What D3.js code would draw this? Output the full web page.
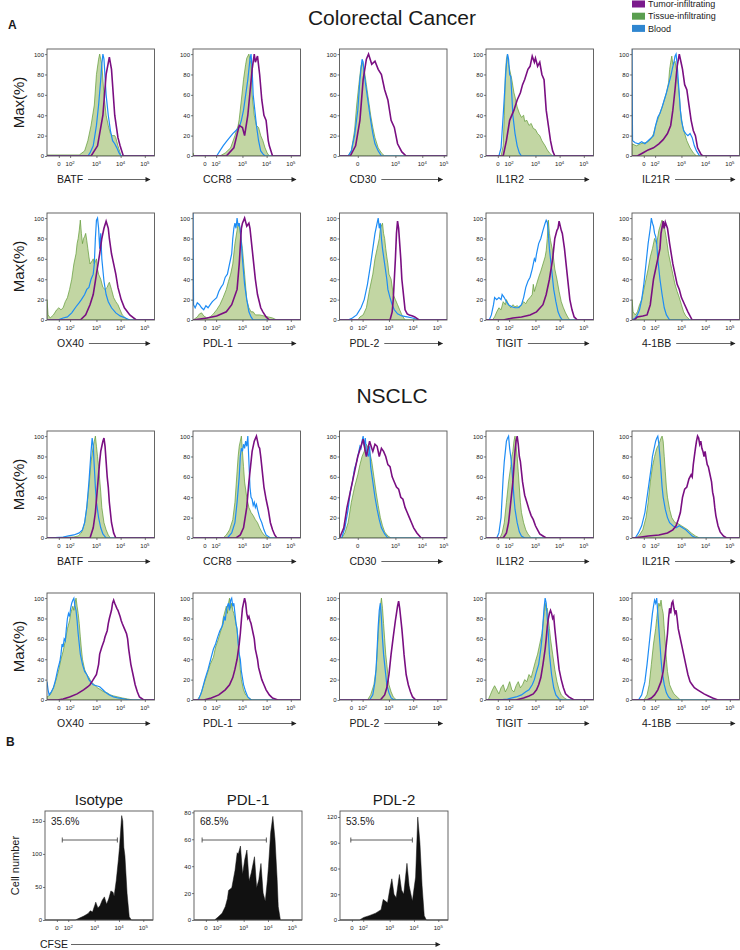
<!DOCTYPE html>
<html lang="en">
<head>
<meta charset="UTF-8">
<title>Tumor-infiltrating Treg markers</title>
<script src="https://d3js.org/d3.v7.min.js"></script>
<style>
  body { margin: 0; background: #fff; font-family: "Liberation Sans", Arial, sans-serif; }
  svg text { font-family: "Liberation Sans", Arial, sans-serif; fill: #1a1a1a; }
  .axis text { font-size: 6px; }
  .axis line { stroke: #444; stroke-width: 0.7; }
  .axis path { display: none; }
</style>
</head>
<body>
<div id="viz"></div>
<script>
// ---- data (x in channel units 0-100 along the biexponential axis, y in % of max) ----
var markers = ["BATF", "CCR8", "CD30", "IL1R2", "IL21R", "OX40", "PDL-1", "PDL-2", "TIGIT", "4-1BB"];
var seriesNames = ["Tumor-infiltrating", "Tissue-infiltrating", "Blood"];

var xTickPos = [11, 21.5, 46, 68.5, 91];
var xTickExp = [null, 2, 3, 4, 5];
var cd30TickPos = [17, 52, 77, 97];
var cd30TickExp = [null, 3, 4, 5];
var yTicks = [0, 20, 40, 60, 80, 100];

var crcTumor = [
  [[41,0],[47,10],[52,40],[55,80],[58,97],[60,85],[63,40],[66,18],[68,10],[71,0]],
  [[31,0],[38,8],[43,30],[46,28],[48,20],[51,40],[55,85],[57,100],[58,92],[60,98],[62,80],[64,55],[66,40],[68,35],[70,15],[71,10],[74,0]],
  [[10,0],[15,10],[19,35],[22,75],[25,95],[27,100],[30,90],[33,93],[36,85],[39,80],[42,65],[45,55],[48,35],[51,28],[54,12],[58,4],[62,0]],
  [[16,0],[19,15],[22,35],[26,45],[29,55],[32,62],[34,70],[36,75],[39,85],[41,88],[43,98],[45,92],[46,96],[48,88],[50,92],[52,80],[54,75],[56,45],[58,30],[60,15],[62,5],[64,0]],
  [[5,0],[10,3],[15,6],[20,8],[25,12],[29,16],[33,22],[36,30],[38,45],[40,65],[42,88],[44,100],[46,90],[47,85],[49,70],[51,65],[53,50],[55,35],[57,25],[59,20],[61,8],[64,2],[66,0]],
  [[31,0],[36,5],[40,15],[43,25],[46,45],[49,65],[51,80],[53,90],[55,97],[57,90],[58,80],[60,65],[62,55],[64,45],[66,32],[69,20],[72,12],[77,5],[83,0]],
  [[0,0],[13,2],[22,4],[31,8],[36,15],[41,30],[43,55],[45,90],[46,95],[48,100],[50,92],[52,95],[53,90],[55,70],[56,60],[58,40],[60,25],[63,12],[65,8],[68,3],[71,0]],
  [[47,0],[49,8],[50,20],[51,40],[52,60],[53,85],[54,97],[55,90],[56,75],[57,60],[58,40],[59,30],[60,20],[61,10],[63,6],[65,5],[68,4],[70,3],[74,0]],
  [[16,0],[25,2],[33,3],[41,5],[47,8],[53,15],[56,25],[59,40],[62,60],[64,80],[66,88],[67,90],[68,97],[70,88],[71,85],[73,70],[75,50],[77,30],[78,20],[80,10],[82,3],[85,0]],
  [[2,0],[5,3],[10,4],[14,5],[17,15],[20,40],[23,55],[26,70],[27,85],[29,97],[30,90],[31,96],[33,90],[35,75],[38,55],[40,45],[42,35],[44,30],[46,22],[49,15],[52,8],[56,0]]
];

var crcTissue = [
  [[0,1],[30,1],[35,5],[38,15],[41,30],[44,50],[46,80],[48,95],[49,100],[51,90],[53,60],[55,40],[57,30],[59,22],[61,20],[63,20],[64,18],[66,10],[69,0]],
  [[0,3],[1,0],[25,0],[30,3],[35,8],[39,20],[42,30],[43,36],[45,55],[47,75],[49,90],[50,96],[52,100],[54,90],[55,60],[57,40],[59,30],[61,28],[63,20],[65,15],[67,8],[69,3],[71,0]],
  [[8,0],[11,5],[14,25],[16,50],[18,70],[20,88],[21,92],[23,85],[25,70],[27,55],[29,40],[31,28],[33,18],[36,8],[39,3],[42,0]],
  [[14,0],[16,10],[17,40],[18,80],[19,95],[20,100],[21,90],[22,85],[24,75],[26,62],[27,58],[29,48],[31,42],[33,38],[35,40],[36,34],[38,35],[40,30],[42,32],[44,27],[46,26],[48,22],[50,20],[52,15],[55,10],[57,6],[59,3],[62,0]],
  [[0,12],[4,10],[8,12],[12,13],[15,14],[18,17],[20,22],[22,30],[24,36],[26,42],[28,48],[30,55],[32,62],[34,72],[35,85],[36,92],[37,98],[38,90],[40,93],[42,80],[43,70],[44,60],[45,45],[47,30],[49,22],[51,15],[54,8],[57,3],[60,0]],
  [[0,20],[1,5],[3,2],[6,5],[9,10],[11,12],[13,10],[15,12],[17,18],[19,22],[21,30],[23,40],[25,55],[27,65],[28,75],[29,80],[30,88],[31,98],[32,85],[33,75],[34,80],[35,82],[36,85],[37,78],[38,70],[39,62],[40,55],[42,58],[43,60],[44,55],[46,60],[47,50],[48,45],[50,40],[52,32],[54,30],[56,32],[57,35],[58,37],[60,30],[62,22],[64,18],[66,15],[68,10],[70,5],[72,3],[75,0]],
  [[0,0],[4,3],[6,6],[8,7],[10,4],[13,2],[16,3],[19,6],[22,10],[25,15],[28,22],[31,30],[33,38],[35,45],[37,55],[39,75],[41,88],[42,95],[43,92],[45,78],[46,70],[48,45],[50,20],[52,12],[54,8],[56,8],[58,5],[62,5],[66,4],[70,3],[74,2],[78,0]],
  [[17,0],[19,3],[22,5],[25,12],[28,30],[31,45],[33,60],[35,70],[37,80],[38,90],[40,95],[41,85],[42,80],[43,70],[44,62],[45,55],[46,45],[48,40],[50,25],[52,20],[54,15],[56,10],[58,5],[61,0]],
  [[6,0],[8,3],[10,8],[12,12],[14,10],[16,18],[18,15],[19,20],[21,15],[23,12],[25,15],[27,13],[29,14],[31,12],[33,15],[35,18],[37,16],[39,20],[41,22],[43,25],[44,35],[45,28],[47,35],[49,42],[51,48],[53,55],[55,62],[56,68],[57,80],[58,98],[59,85],[60,78],[62,68],[64,50],[66,40],[68,28],[70,18],[72,12],[74,7],[76,3],[78,0]],
  [[0,20],[1,8],[3,5],[5,8],[7,15],[9,20],[11,30],[13,40],[15,50],[17,62],[19,70],[21,80],[23,75],[25,88],[27,95],[28,98],[29,90],[30,92],[32,80],[34,65],[36,55],[38,45],[40,35],[42,28],[44,22],[46,15],[48,8],[50,4],[54,0]]
];

var crcBlood = [
  [[0,0],[38,0],[40,3],[43,10],[46,30],[48,50],[50,75],[51,90],[52,100],[53,95],[55,60],[57,40],[59,25],[61,15],[63,12],[65,8],[67,3],[69,0]],
  [[0,0],[22,0],[25,5],[28,10],[31,14],[34,18],[37,22],[40,25],[43,28],[45,35],[47,45],[49,60],[51,75],[53,95],[54,100],[55,85],[56,60],[57,50],[59,30],[61,15],[63,5],[65,2],[67,0]],
  [[8,0],[11,5],[14,20],[17,45],[19,75],[20,85],[21,95],[22,92],[23,80],[25,65],[27,50],[29,35],[31,22],[33,12],[36,5],[39,0]],
  [[12,0],[14,8],[16,40],[18,75],[19,90],[20,100],[21,95],[22,80],[23,78],[24,60],[25,40],[27,22],[29,10],[31,3],[33,0]],
  [[0,105],[0.5,15],[3,13],[6,12],[9,14],[12,12],[15,15],[18,18],[20,20],[22,30],[24,38],[26,42],[28,48],[30,55],[32,62],[34,70],[36,78],[38,88],[39,92],[40,98],[41,100],[42,90],[43,75],[44,60],[45,45],[46,35],[48,25],[50,22],[52,20],[54,22],[56,18],[58,10],[60,5],[63,0]],
  [[0,0],[10,0],[15,2],[19,3],[23,7],[27,13],[30,17],[32,20],[35,25],[37,30],[39,32],[41,40],[43,45],[44,55],[45,80],[46,98],[47,100],[48,90],[49,70],[50,85],[51,60],[53,38],[55,25],[57,18],[60,12],[64,7],[68,4],[73,2],[77,0]],
  [[0,105],[0.5,15],[2,12],[4,17],[6,15],[8,12],[10,10],[12,14],[14,12],[16,15],[18,18],[20,20],[22,22],[24,28],[26,32],[28,35],[30,42],[32,45],[34,55],[36,65],[37,80],[38,90],[39,95],[40,90],[41,100],[42,92],[43,95],[44,88],[45,75],[46,60],[48,35],[50,20],[52,8],[54,3],[56,0]],
  [[8,0],[12,2],[16,5],[20,12],[23,20],[26,35],[29,55],[31,70],[33,85],[35,95],[36,100],[37,90],[38,95],[39,80],[40,70],[42,55],[44,40],[45,30],[47,22],[49,15],[51,10],[54,6],[58,4],[63,3],[68,2],[74,0]],
  [[3,0],[5,5],[7,15],[8,22],[10,20],[12,22],[14,20],[15,25],[17,22],[19,18],[21,15],[24,13],[27,12],[30,12],[33,15],[35,22],[37,32],[39,38],[41,42],[43,50],[45,60],[46,58],[47,65],[49,75],[51,80],[53,88],[55,95],[56,98],[57,96],[58,85],[59,70],[61,50],[63,30],[65,18],[67,8],[69,3],[71,0]],
  [[0,0],[3,2],[5,5],[7,10],[9,20],[11,35],[13,55],[14,65],[15,75],[17,90],[18,100],[19,95],[20,92],[21,85],[22,82],[23,75],[24,60],[26,40],[28,25],[30,12],[32,5],[35,0]]
];

var nscTumor = [
  [[40,0],[43,10],[45,25],[47,50],[49,75],[50,85],[51,90],[52,95],[53,98],[54,90],[55,75],[56,60],[57,50],[58,35],[60,15],[62,5],[64,0]],
  [[40,0],[44,3],[47,10],[50,30],[52,55],[54,75],[55,85],[57,95],[59,100],[60,95],[61,90],[62,88],[63,80],[64,70],[65,60],[66,50],[68,38],[70,28],[72,15],[74,8],[76,3],[78,0]],
  [[0,0],[4,10],[7,30],[10,45],[13,60],[15,70],[17,80],[20,90],[22,97],[24,85],[25,80],[27,90],[28,95],[30,88],[31,85],[33,92],[35,90],[37,80],[39,88],[41,85],[43,80],[45,72],[47,70],[49,60],[51,55],[53,50],[55,48],[57,40],[59,38],[61,30],[63,25],[65,20],[67,15],[69,10],[72,5],[76,0]],
  [[16,0],[19,5],[21,15],[23,35],[25,55],[26,70],[27,85],[28,95],[29,100],[30,92],[31,80],[32,75],[34,55],[36,42],[38,35],[40,28],[42,22],[44,18],[46,12],[48,8],[50,4],[53,2],[56,0]],
  [[2,0],[15,2],[25,3],[33,5],[38,8],[41,12],[43,18],[45,25],[47,40],[49,48],[51,50],[53,58],[55,62],[56,60],[57,72],[58,80],[59,88],[60,95],[61,100],[62,98],[63,92],[64,95],[65,88],[66,85],[67,80],[68,85],[69,78],[70,72],[71,70],[72,65],[74,55],[75,45],[76,40],[77,30],[78,22],[80,12],[82,6],[85,2],[88,0]],
  [[10,0],[15,1],[21,3],[28,6],[34,10],[38,13],[40,15],[43,20],[46,25],[48,35],[49,45],[51,52],[53,58],[54,62],[56,68],[57,75],[58,80],[60,88],[61,95],[62,98],[63,95],[65,90],[66,88],[68,82],[69,78],[70,75],[72,70],[74,65],[75,60],[76,50],[78,35],[80,25],[82,15],[84,8],[86,3],[90,0]],
  [[10,0],[17,2],[24,5],[30,10],[34,15],[37,22],[39,30],[41,40],[43,55],[44,65],[45,78],[46,90],[47,95],[48,100],[49,95],[50,85],[51,80],[52,82],[53,78],[54,75],[55,70],[56,65],[57,60],[58,50],[59,45],[60,40],[61,32],[62,28],[64,20],[66,15],[68,10],[71,5],[74,2],[79,0]],
  [[38,0],[42,5],[44,12],[46,25],[48,45],[50,62],[52,78],[53,85],[54,92],[55,97],[56,90],[57,80],[58,70],[59,58],[60,45],[61,35],[62,25],[64,15],[66,8],[68,3],[71,0]],
  [[28,0],[35,2],[40,4],[44,6],[47,10],[49,15],[51,22],[53,35],[55,50],[56,60],[57,72],[58,80],[59,85],[60,88],[61,85],[62,80],[63,82],[64,70],[65,60],[66,50],[67,40],[68,30],[70,20],[72,12],[74,6],[77,3],[82,0]],
  [[14,0],[18,2],[21,5],[24,10],[27,18],[29,28],[31,45],[33,65],[34,80],[35,90],[36,85],[37,95],[38,97],[39,90],[40,85],[41,88],[42,80],[43,70],[44,65],[46,55],[48,45],[50,35],[52,25],[54,18],[56,15],[58,12],[61,10],[64,8],[67,6],[71,4],[75,2],[80,0]]
];

var nscTissue = [
  [[0,0],[25,1],[29,2],[32,5],[35,15],[37,30],[39,50],[41,75],[43,90],[44,95],[45,100],[46,90],[47,80],[48,70],[50,45],[51,30],[53,15],[55,8],[57,3],[59,0]],
  [[28,0],[31,3],[34,8],[37,18],[39,35],[40,50],[41,65],[42,80],[43,90],[44,95],[45,100],[46,85],[47,70],[48,55],[50,40],[52,30],[54,25],[56,22],[58,18],[60,15],[62,10],[64,6],[66,3],[70,0]],
  [[2,0],[5,5],[8,15],[11,35],[14,50],[17,62],[19,72],[21,80],[23,85],[25,92],[27,88],[28,85],[30,75],[32,60],[34,45],[36,32],[38,20],[40,12],[42,6],[45,2],[48,0]],
  [[13,0],[15,5],[17,15],[19,35],[21,55],[23,70],[24,80],[25,85],[26,95],[27,100],[28,90],[29,80],[30,65],[31,50],[32,35],[33,25],[35,15],[37,8],[39,4],[42,0]],
  [[4,0],[7,3],[10,8],[13,20],[15,35],[17,55],[19,70],[21,80],[23,88],[25,92],[27,98],[28,100],[29,95],[30,80],[31,65],[32,50],[33,40],[35,28],[37,20],[40,15],[43,14],[46,12],[49,10],[52,8],[55,5],[59,2],[63,0]],
  [[0,3],[3,5],[5,10],[7,15],[9,22],[11,30],[13,40],[15,48],[17,58],[19,70],[21,78],[22,85],[24,92],[25,88],[26,95],[27,100],[28,92],[29,85],[30,75],[31,62],[32,50],[33,40],[35,30],[37,25],[39,22],[41,18],[44,15],[47,12],[50,10],[53,8],[56,7],[59,5],[62,4],[66,3],[70,2],[75,1],[80,0]],
  [[4,0],[7,5],[10,15],[13,25],[16,35],[19,42],[21,52],[23,58],[25,65],[27,72],[28,80],[30,88],[31,92],[32,85],[33,95],[34,100],[35,90],[36,95],[37,88],[38,85],[39,80],[40,75],[41,68],[42,60],[43,45],[44,30],[45,20],[47,10],[49,5],[52,2],[55,0]],
  [[26,0],[29,5],[32,15],[34,30],[35,45],[36,65],[37,80],[38,92],[39,100],[40,90],[41,75],[42,60],[43,45],[44,35],[45,25],[46,15],[48,8],[50,3],[53,0]],
  [[2,0],[4,5],[6,10],[8,14],[10,10],[12,6],[14,12],[16,15],[18,8],[20,12],[22,18],[24,10],[26,8],[28,14],[30,18],[32,12],[34,15],[36,20],[38,18],[40,25],[42,22],[44,30],[46,38],[48,45],[50,55],[52,65],[53,75],[54,85],[55,95],[56,88],[57,90],[58,80],[59,70],[60,60],[62,45],[64,30],[66,18],[68,10],[70,5],[73,2],[76,0]],
  [[11,0],[14,5],[16,15],[18,35],[20,55],[22,70],[23,80],[24,90],[25,95],[26,92],[27,98],[28,90],[29,85],[30,70],[31,55],[32,40],[33,28],[35,15],[37,10],[39,6],[42,3],[45,0]]
];

var nscBlood = [
  [[0,0],[15,1],[20,2],[25,3],[30,5],[33,8],[35,15],[37,30],[39,55],[40,70],[41,85],[42,98],[43,90],[44,70],[45,50],[46,35],[48,20],[50,10],[52,4],[55,0]],
  [[32,0],[36,5],[39,15],[41,35],[43,60],[44,80],[45,88],[46,85],[47,92],[48,88],[49,95],[50,90],[51,100],[52,75],[53,50],[54,40],[55,38],[56,32],[57,35],[58,30],[59,33],[60,28],[62,20],[64,15],[66,8],[68,3],[72,0]],
  [[2,0],[5,10],[8,28],[10,45],[12,55],[14,68],[16,75],[18,85],[19,90],[20,88],[21,95],[22,100],[23,90],[24,98],[25,85],[27,80],[28,90],[29,70],[31,55],[33,40],[35,28],[37,18],[39,10],[42,4],[45,0]],
  [[10,0],[12,5],[14,20],[15,40],[16,60],[17,75],[18,85],[19,95],[20,98],[21,100],[22,88],[23,80],[24,70],[25,55],[26,40],[27,28],[29,15],[31,6],[33,2],[36,0]],
  [[3,0],[6,5],[9,12],[12,25],[14,40],[16,55],[18,70],[19,80],[20,85],[21,90],[22,95],[23,98],[24,100],[25,92],[26,80],[27,65],[28,50],[29,40],[31,28],[33,20],[35,15],[38,12],[41,10],[44,12],[47,10],[50,8],[53,5],[56,2],[60,0]],
  [[0,18],[1,10],[2,5],[4,8],[6,12],[8,20],[10,30],[12,38],[13,45],[14,55],[15,52],[16,60],[17,58],[18,70],[19,80],[20,85],[21,82],[22,90],[23,95],[24,98],[25,100],[26,92],[27,88],[28,78],[29,65],[30,55],[31,45],[33,35],[35,28],[37,25],[39,20],[41,17],[43,15],[46,14],[49,13],[52,10],[55,7],[58,5],[62,3],[66,2],[72,1],[77,0]],
  [[5,0],[8,8],[11,20],[14,30],[17,42],[19,50],[21,55],[23,62],[25,68],[27,72],[28,75],[29,82],[30,78],[31,88],[32,92],[33,95],[34,88],[35,98],[36,100],[37,92],[38,95],[39,85],[40,75],[41,70],[42,55],[43,45],[44,40],[45,28],[47,15],[49,8],[51,3],[54,0]],
  [[28,0],[31,5],[33,18],[34,30],[35,50],[36,72],[37,88],[38,95],[39,80],[40,60],[41,45],[42,35],[43,25],[44,15],[46,7],[48,2],[51,0]],
  [[10,0],[20,1],[28,3],[33,5],[37,8],[40,10],[43,15],[45,20],[47,28],[49,35],[51,50],[52,60],[53,75],[54,90],[55,100],[56,95],[57,80],[58,65],[59,45],[61,25],[63,12],[65,5],[68,1],[71,0]],
  [[6,0],[9,5],[12,18],[14,35],[16,55],[18,75],[19,85],[20,92],[21,98],[22,95],[23,100],[24,85],[25,70],[26,55],[27,40],[28,28],[30,15],[32,7],[34,3],[37,0]]
];

// panel B: CFSE dilution (cell counts)
var cfseTitles = ["Isotype", "PDL-1", "PDL-2"];
var cfsePercent = ["35.6%", "68.5%", "53.5%"];
var cfseMax = [165, 81, 127];
var cfseYTicks = [[0, 50, 100, 150], [0, 20, 40, 60, 80], [0, 30, 60, 90, 120]];
var cfseGates = [[16, 67], [7.5, 67], [10, 67]];
var cfseIsotype = [[28,0],[32,3],[36,6],[40,10],[42,14],[44,12],[46,22],[47,27],[49,18],[51,22],[53,30],[55,35],[57,24],[59,32],[61,44],[63,42],[64,36],[66,60],[68,92],[69,110],[71,158],[72,150],[73,110],[74,97],[76,40],[78,5],[80,0]];
var cfsePDL1 = [[19,0],[22,2],[26,5],[29,10],[31,16],[32,22],[35,24],[38,37],[40,50],[41,49],[43,55],[45,34],[47,45],[49,52],[51,29],[53,35],[56,47],[58,24],[60,30],[62,42],[64,20],[66,14],[68,30],[69,40],[71,65],[73,77],[75,60],[77,30],[78,10],[80,0]];
var cfsePDL2 = [[18,0],[22,3],[27,5],[33,8],[38,12],[40,24],[42,22],[44,20],[46,35],[48,48],[50,30],[52,26],[55,53],[57,35],[59,30],[62,66],[64,40],[67,22],[70,50],[72,120],[74,90],[76,40],[78,5],[80,0]];

// ---- layout ----
var W = 740, H = 950;
var colLeft = [47, 193, 339.5, 486, 632];
var rowTop = [49, 213, 431, 593];
var PW = 107.5, PH = 107;
var colors = { tumor: "#7a0f82", tissueFill: "#c2d6a3", tissueLine: "#5f9a35", blood: "#1d8cf5" };

var svg = d3.select("#viz").append("svg")
    .attr("width", W)
    .attr("height", H);

var defs = svg.append("defs");
defs.append("marker")
    .attr("id", "arrow")
    .attr("viewBox", "0 0 10 10")
    .attr("refX", 9).attr("refY", 5)
    .attr("markerWidth", 7).attr("markerHeight", 5)
    .attr("markerUnits", "userSpaceOnUse")
    .attr("orient", "auto")
  .append("path")
    .attr("d", "M0,0 L10,5 L0,10 Z")
    .attr("fill", "#222");

function pad(pts) {
  var out = pts.slice();
  if (out[0][0] > 0) out.unshift([0, 0]);
  if (out[out.length - 1][0] < 100) out.push([100, 0]);
  return out;
}

function addXTicks(g, x, y0, pos, exps) {
  var ax = g.append("g").attr("class", "axis")
      .attr("transform", "translate(0," + y0 + ")")
      .call(d3.axisBottom(x).tickValues(pos).tickSize(2).tickFormat(""));
  var lab = g.selectAll(null).data(pos).enter().append("text")
      .attr("x", d => x(d))
      .attr("y", y0 + 10)
      .attr("text-anchor", "middle")
      .style("font-size", "6px");
  lab.each(function(d, i) {
    var t = d3.select(this);
    if (exps[i] == null) { t.text("0"); return; }
    t.append("tspan").text("10");
    t.append("tspan").attr("dy", -2.5).style("font-size", "4.2px").text(exps[i]);
  });
}

function axisLabel(g, left, bottom, name) {
  var t = g.append("text")
      .attr("x", left + 10)
      .attr("y", bottom + 27)
      .style("font-size", "10.5px")
      .text(name);
  var end = left + 10 + t.node().getComputedTextLength();
  g.append("line")
      .attr("x1", end + 5).attr("x2", left + 103)
      .attr("y1", bottom + 23.5).attr("y2", bottom + 23.5)
      .attr("stroke", "#222").attr("stroke-width", 0.7)
      .attr("marker-end", "url(#arrow)");
}

var panelId = 0;
function drawPanel(left, top, marker, tumor, tissue, blood) {
  var id = "clip" + (panelId++);
  var g = svg.append("g");
  var x = d3.scaleLinear().domain([0, 100]).range([left, left + PW]);
  var y = d3.scaleLinear().domain([0, 105]).range([top + PH, top]);

  defs.append("clipPath").attr("id", id)
    .append("rect").attr("x", left).attr("y", top - 1).attr("width", PW).attr("height", PH + 1);

  var area = d3.area().x(d => x(d[0])).y0(y(0)).y1(d => y(d[1]));
  var line = d3.line().x(d => x(d[0])).y(d => y(d[1]));
  var plot = g.append("g").attr("clip-path", "url(#" + id + ")");

  plot.append("path").datum(pad(tissue))
      .attr("d", area)
      .attr("fill", colors.tissueFill)
      .attr("stroke", colors.tissueLine)
      .attr("stroke-width", 0.7);
  plot.append("path").datum(pad(blood))
      .attr("d", line)
      .attr("fill", "none")
      .attr("stroke", colors.blood)
      .attr("stroke-width", 1.2);
  plot.append("path").datum(pad(tumor))
      .attr("d", line)
      .attr("fill", "none")
      .attr("stroke", colors.tumor)
      .attr("stroke-width", 1.6);

  g.append("rect")
      .attr("x", left).attr("y", top)
      .attr("width", PW).attr("height", PH)
      .attr("fill", "none").attr("stroke", "#555").attr("stroke-width", 0.9);

  g.append("g").attr("class", "axis")
      .attr("transform", "translate(" + left + ",0)")
      .call(d3.axisLeft(y).tickValues(yTicks).tickSize(2).tickPadding(1));

  if (marker === "CD30") addXTicks(g, x, top + PH, cd30TickPos, cd30TickExp);
  else addXTicks(g, x, top + PH, xTickPos, xTickExp);
  axisLabel(g, left, top + PH, marker);
}

// ---- panel A ----
svg.append("text").attr("x", 8).attr("y", 29)
    .style("font-size", "12px").style("font-weight", "bold").text("A");

svg.append("text").attr("x", 392).attr("y", 25)
    .attr("text-anchor", "middle").style("font-size", "21px").text("Colorectal Cancer");
svg.append("text").attr("x", 392).attr("y", 403)
    .attr("text-anchor", "middle").style("font-size", "21px").text("NSCLC");

// legend
var legendColors = ["#7b1a8c", "#5a9e4f", "#2f86d0"];
var leg = svg.append("g").selectAll("g").data(seriesNames).enter().append("g")
    .attr("transform", (d, i) => "translate(632," + (4 + i * 12.2) + ")");
leg.append("rect").attr("x", 0).attr("y", -3.5).attr("width", 13).attr("height", 7)
    .attr("fill", (d, i) => legendColors[i]);
leg.append("text").attr("x", 16).attr("y", 3.2)
    .style("font-size", "9px").text(d => d);

rowTop.forEach(function(top) {
  svg.append("text")
      .attr("transform", "translate(24," + (top + PH / 2) + ") rotate(-90)")
      .attr("text-anchor", "middle")
      .style("font-size", "15px")
      .text("Max(%)");
});

markers.forEach(function(m, i) {
  var c = i % 5, r = Math.floor(i / 5);
  drawPanel(colLeft[c], rowTop[r], m, crcTumor[i], crcTissue[i], crcBlood[i]);
  drawPanel(colLeft[c], rowTop[r + 2], m, nscTumor[i], nscTissue[i], nscBlood[i]);
});

// ---- panel B ----
svg.append("text").attr("x", 6).attr("y", 746)
    .style("font-size", "12px").style("font-weight", "bold").text("B");

var bLeft = [45, 194, 340], bTop = 811, bH = 109, bW = 108;
var cfseData = [cfseIsotype, cfsePDL1, cfsePDL2];

cfseData.forEach(function(pts, i) {
  var left = bLeft[i];
  var g = svg.append("g");
  var x = d3.scaleLinear().domain([0, 100]).range([left, left + bW]);
  var y = d3.scaleLinear().domain([0, cfseMax[i]]).range([bTop + bH, bTop]);

  g.append("path").datum(pad(pts))
      .attr("d", d3.area().x(d => x(d[0])).y0(y(0)).y1(d => y(d[1])))
      .attr("fill", "#111").attr("stroke", "#111").attr("stroke-width", 0.5);

  g.append("rect").attr("x", left).attr("y", bTop)
      .attr("width", bW).attr("height", bH)
      .attr("fill", "none").attr("stroke", "#555").attr("stroke-width", 0.9);

  g.append("g").attr("class", "axis")
      .attr("transform", "translate(" + left + ",0)")
      .call(d3.axisLeft(y).tickValues(cfseYTicks[i]).tickSize(2).tickPadding(1));
  addXTicks(g, x, bTop + bH, xTickPos, xTickExp);

  g.append("text").attr("x", left + bW / 2).attr("y", bTop - 6)
      .attr("text-anchor", "middle").style("font-size", "15px").text(cfseTitles[i]);
  g.append("text").attr("x", left + 6).attr("y", bTop + 14)
      .style("font-size", "10px").text(cfsePercent[i]);

  var gy = bTop + 29;
  var gx0 = x(cfseGates[i][0]), gx1 = x(cfseGates[i][1]);
  g.append("line").attr("x1", gx0).attr("x2", gx1).attr("y1", gy).attr("y2", gy)
      .attr("stroke", "#333").attr("stroke-width", 0.8);
  [gx0, gx1].forEach(function(gx) {
    g.append("line").attr("x1", gx).attr("x2", gx).attr("y1", gy - 2.5).attr("y2", gy + 2.5)
        .attr("stroke", "#333").attr("stroke-width", 0.8);
  });
});

svg.append("text")
    .attr("transform", "translate(19," + (bTop + bH / 2) + ") rotate(-90)")
    .attr("text-anchor", "middle").style("font-size", "11px").text("Cell number");

var cf = svg.append("text").attr("x", 40).attr("y", 948)
    .style("font-size", "10.5px").text("CFSE");
svg.append("line")
    .attr("x1", 40 + cf.node().getComputedTextLength() + 3).attr("x2", 440)
    .attr("y1", 944.5).attr("y2", 944.5)
    .attr("stroke", "#222").attr("stroke-width", 0.7)
    .attr("marker-end", "url(#arrow)");
</script>
</body>
</html>
